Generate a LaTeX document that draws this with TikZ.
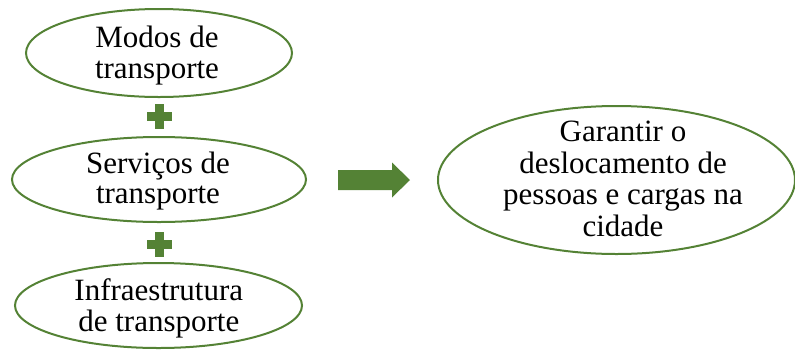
\documentclass[tikz,border=0pt]{standalone}
\usepackage{fontspec}
\setmainfont{Liberation Serif}
\usetikzlibrary{shapes.geometric}
\definecolor{leaf}{RGB}{84,130,53}
\tikzset{
  oval/.style={ellipse, draw=leaf, line width=2pt, inner sep=0pt},
  txt/.style={anchor=base, inner sep=0pt, font=\fontsize{31}{31}\selectfont},
}
\begin{document}
\begin{tikzpicture}[x=1pt, y=-1pt]
\useasboundingbox (0,0) rectangle (795,349);

% left column of ellipses
\node[oval, minimum width=266pt, minimum height=88pt] (modos) at (159,53) {};
\node[oval, minimum width=294pt, minimum height=85pt] (servicos) at (159,179.5) {};
\node[oval, minimum width=287pt, minimum height=85pt] (infra) at (158.5,305.5) {};

% goal ellipse
\node[oval, minimum width=357pt, minimum height=148pt] (goal) at (616.5,180) {};

% texts
\node[txt] (m1) at (157,47.7) {Modos de};
\node[txt] (m2) at (157,78.3) {transporte};
\node[txt] (s1) at (158,173.3) {Serviços de};
\node[txt] (s2) at (158,203.8) {transporte};
\node[txt] (i1) at (158.8,300) {Infraestrutura};
\node[txt] (i2) at (158.8,331.5) {de transporte};
\node[txt] (g1) at (623,141.7) {Garantir o};
\node[txt] (g2) at (623,173.3) {deslocamento de};
\node[txt] (g3) at (623,204.7) {pessoas e cargas na};
\node[txt] (g4) at (623,236.5) {cidade};

% plus signs between the ellipses
\foreach \cy in {116.5,244.5}{
  \fill[leaf] (154.5,\cy-12.5) rectangle (163.5,\cy+12.5);
  \fill[leaf] (146.5,\cy-4.5) rectangle (171.5,\cy+4.5);
}

% block arrow towards the goal
\fill[leaf] (338,170) -- (392,170) -- (392,162.5) -- (410,180)
  -- (392,197.5) -- (392,190) -- (338,190) -- cycle;
\end{tikzpicture}
\end{document}
